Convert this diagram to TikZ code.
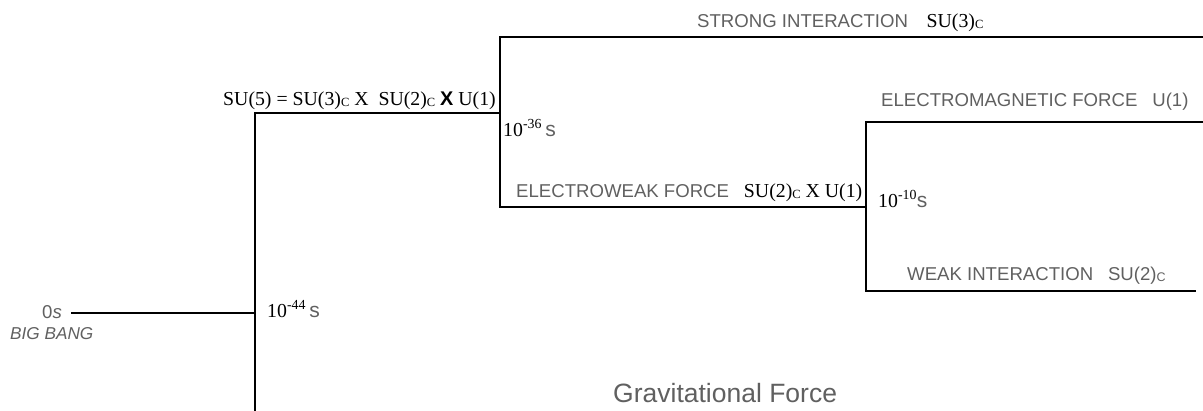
\documentclass[tikz,border=0pt]{standalone}
\usepackage{fontspec}
\setmainfont{Liberation Serif}
\newfontfamily\hv{Liberation Sans}
\definecolor{txtgray}{RGB}{96,96,96}
\newcommand\subC{\raisebox{-1.5pt}{\fontsize{12.5}{12.5}\selectfont C}}
\newcommand\sunit{{\hv\color{txtgray}\fontsize{21}{22}\selectfont s}}
\tikzset{
  branch/.style={line width=2.5pt, line cap=rect},
  serif/.style={inner sep=0pt, anchor=base west, font=\fontsize{19.8}{21}\selectfont},
  sans/.style={inner sep=0pt, anchor=base west, text=txtgray, font=\hv\fontsize{18.6}{20}\selectfont},
}
\begin{document}
\begin{tikzpicture}[x=1pt,y=-1pt]
\useasboundingbox (0,0) rectangle (1203,410);
% junction coordinates
\coordinate (s0) at (72,313);
\coordinate (a) at (255,313);
\coordinate (ab) at (255,412);
\coordinate (at) at (255,113);
\coordinate (b) at (500,113);
\coordinate (bt) at (500,37);
\coordinate (bb) at (500,207);
\coordinate (st) at (1205,37);
\coordinate (c) at (866,207);
\coordinate (ct) at (866,122);
\coordinate (cb) at (866,291);
\coordinate (em) at (1205,122);
\coordinate (wk) at (1195,291);
% lines
\draw[branch] (s0) -- (a);
\draw[branch] (ab) -- (at) -- (b);
\draw[branch] (bt) -- (bb) -- (c);
\draw[branch] (bt) -- (st);
\draw[branch] (ct) -- (cb) -- (wk);
\draw[branch] (ct) -- (em);
% labels
\node[sans, anchor=base east] (zero) at (62,318) {0\textit{s}};
\node[sans, font=\hv\itshape\fontsize{17.2}{18}\selectfont] (bigbang) at (10,339) {BIG BANG};
\node[serif] (t44) at (267,317) {10\textsuperscript{-44}\,\sunit};
\node[serif] (t36) at (503,136) {10\textsuperscript{-36}\,\sunit};
\node[serif] (t10) at (878,207) {10\textsuperscript{-10}\sunit};
\node[serif] (su5) at (223,105) {SU(5) = SU(3)\subC\ X\ \ SU(2)\subC\ {\hv\bfseries X} U(1)};
\node[sans] (strong) at (697,27) {STRONG INTERACTION\hspace{1.0em}{\color{black}\rmfamily\fontsize{19.8}{21}\selectfont SU(3)\subC}};
\node[sans] (ew) at (516,197) {ELECTROWEAK FORCE\hspace{0.8em}{\color{black}\rmfamily\fontsize{19.8}{21}\selectfont SU(2)\subC\ X U(1)}};
\node[sans] (emf) at (881,106) {ELECTROMAGNETIC FORCE\hspace{0.8em}U(1)};
\node[sans] (weak) at (907,280) {WEAK INTERACTION\hspace{0.8em}SU(2)\subC};
\node[sans, font=\hv\fontsize{26.5}{28}\selectfont] (grav) at (613,402) {Gravitational Force};
\end{tikzpicture}
\end{document}
